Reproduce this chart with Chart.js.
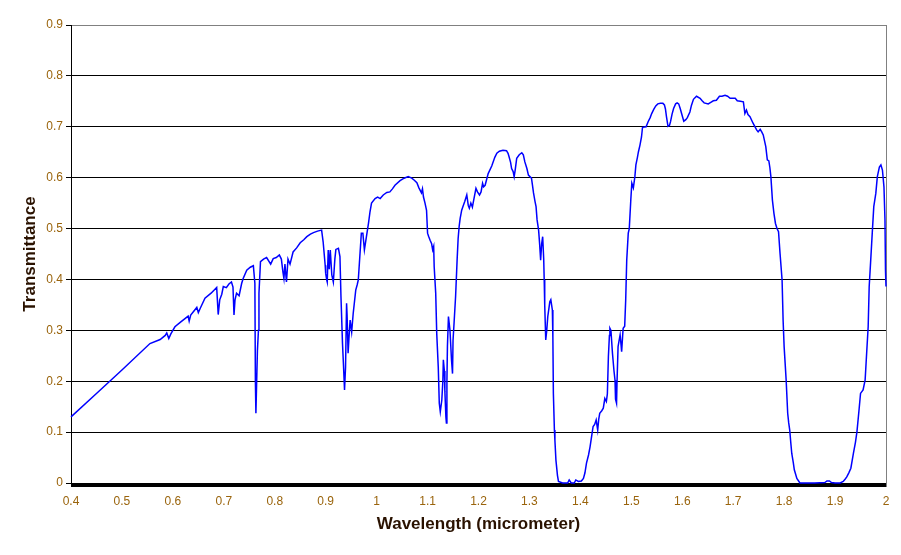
<!DOCTYPE html>
<html>
<head>
<meta charset="utf-8">
<script src="https://cdn.jsdelivr.net/npm/chart.js@4/dist/chart.umd.min.js"></script>
<style>
  html, body { margin: 0; padding: 0; background: #ffffff; }
  #c { display: block; }
</style>
</head>
<body>
<canvas id="c" width="901" height="555"></canvas>
<script>
// ---- Data ----
const wavelength = [
  0.400,0.450,0.500,0.555,0.575,0.585,0.588,0.592,0.596,0.604,0.615,0.630,0.632,0.635,0.647,0.650,0.654,0.663,0.675,0.686,
  0.689,0.692,0.696,0.699,0.705,0.710,0.715,0.718,0.720,0.722,0.725,0.730,0.735,0.738,0.745,0.752,0.758,0.761,0.762,0.763,
  0.765,0.766,0.768,0.769,0.772,0.778,0.784,0.792,0.797,0.803,0.809,0.813,0.816,0.818,0.820,0.823,0.826,0.830,0.836,0.843,
  0.850,0.857,0.863,0.870,0.876,0.884,0.892,0.895,0.899,0.900,0.902,0.903,0.905,0.907,0.909,0.912,0.915,0.918,0.920,0.925,
  0.928,0.930,0.933,0.935,0.937,0.939,0.941,0.942,0.944,0.946,0.948,0.951,0.954,0.959,0.962,0.964,0.967,0.970,0.973,0.976,
  0.980,0.984,0.987,0.990,0.997,1.002,1.007,1.013,1.020,1.026,1.031,1.036,1.046,1.054,1.062,1.069,1.074,1.079,1.083,1.085,
  1.088,1.090,1.092,1.095,1.098,1.100,1.102,1.105,1.108,1.110,1.112,1.113,1.116,1.118,1.121,1.123,1.125,1.128,1.130,1.131,
  1.133,1.134,1.136,1.137,1.138,1.139,1.141,1.144,1.147,1.149,1.150,1.152,1.155,1.158,1.160,1.162,1.164,1.167,1.170,1.173,
  1.177,1.180,1.182,1.185,1.188,1.190,1.195,1.198,1.202,1.205,1.208,1.210,1.213,1.219,1.226,1.232,1.236,1.241,1.248,1.255,
  1.258,1.260,1.263,1.265,1.268,1.270,1.272,1.275,1.280,1.285,1.288,1.291,1.295,1.298,1.304,1.306,1.308,1.311,1.313,1.315,
  1.318,1.320,1.322,1.324,1.326,1.328,1.329,1.330,1.332,1.334,1.336,1.340,1.342,1.345,1.346,1.347,1.349,1.350,1.352,1.355,
  1.357,1.365,1.375,1.378,1.382,1.388,1.391,1.396,1.402,1.406,1.409,1.412,1.416,1.419,1.422,1.425,1.428,1.431,1.434,1.436,
  1.438,1.442,1.445,1.448,1.451,1.453,1.455,1.457,1.458,1.460,1.461,1.463,1.466,1.468,1.469,1.471,1.472,1.474,1.476,1.478,
  1.480,1.481,1.483,1.484,1.487,1.489,1.491,1.494,1.496,1.499,1.501,1.504,1.507,1.509,1.512,1.514,1.517,1.520,1.522,1.529,
  1.533,1.537,1.540,1.544,1.548,1.552,1.557,1.562,1.565,1.567,1.569,1.572,1.575,1.577,1.580,1.583,1.587,1.590,1.593,1.596,
  1.599,1.603,1.607,1.610,1.615,1.618,1.622,1.628,1.635,1.639,1.643,1.651,1.656,1.661,1.667,1.673,1.678,1.684,1.689,1.694,
  1.699,1.704,1.708,1.714,1.720,1.723,1.726,1.729,1.733,1.739,1.746,1.749,1.753,1.756,1.759,1.764,1.767,1.770,1.772,1.774,
  1.777,1.780,1.783,1.786,1.789,1.792,1.796,1.798,1.800,1.802,1.804,1.807,1.809,1.811,1.813,1.815,1.818,1.820,1.825,1.831,
  1.860,1.880,1.884,1.889,1.893,1.900,1.910,1.916,1.920,1.923,1.927,1.931,1.936,1.940,1.943,1.947,1.950,1.955,1.959,1.962,
  1.965,1.967,1.970,1.973,1.976,1.980,1.983,1.987,1.990,1.993,1.996,1.998,1.999,2.000
];
const transmittance = [
  0.130,0.176,0.222,0.274,0.282,0.290,0.295,0.284,0.293,0.307,0.316,0.328,0.318,0.330,0.345,0.335,0.344,0.363,0.373,0.384,
  0.331,0.360,0.371,0.386,0.384,0.391,0.395,0.385,0.330,0.360,0.373,0.368,0.392,0.402,0.418,0.424,0.427,0.392,0.200,0.137,
  0.220,0.261,0.300,0.373,0.435,0.440,0.443,0.430,0.441,0.443,0.448,0.440,0.415,0.402,0.430,0.395,0.440,0.430,0.454,0.462,
  0.472,0.478,0.484,0.489,0.492,0.495,0.497,0.474,0.428,0.412,0.399,0.395,0.458,0.420,0.458,0.409,0.395,0.440,0.459,0.461,
  0.445,0.366,0.274,0.230,0.183,0.228,0.353,0.330,0.255,0.290,0.320,0.297,0.333,0.379,0.390,0.399,0.445,0.491,0.491,0.458,
  0.484,0.510,0.533,0.550,0.559,0.562,0.559,0.566,0.571,0.572,0.578,0.585,0.594,0.599,0.602,0.599,0.595,0.590,0.580,0.576,
  0.570,0.578,0.562,0.550,0.536,0.491,0.485,0.477,0.470,0.458,0.465,0.425,0.373,0.294,0.228,0.157,0.140,0.163,0.200,0.242,
  0.220,0.180,0.130,0.118,0.200,0.268,0.327,0.300,0.242,0.215,0.280,0.314,0.366,0.438,0.480,0.504,0.520,0.536,0.545,0.553,
  0.566,0.545,0.540,0.550,0.542,0.553,0.579,0.572,0.566,0.572,0.589,0.582,0.585,0.608,0.623,0.640,0.648,0.652,0.654,0.653,
  0.648,0.641,0.630,0.618,0.612,0.602,0.615,0.638,0.645,0.649,0.645,0.631,0.618,0.605,0.599,0.585,0.570,0.553,0.543,0.517,
  0.497,0.470,0.438,0.470,0.484,0.440,0.399,0.350,0.281,0.300,0.327,0.356,0.360,0.340,0.287,0.176,0.104,0.084,0.045,0.015,
  0.003,0.000,0.000,0.006,0.000,0.000,0.006,0.003,0.004,0.009,0.020,0.039,0.055,0.071,0.091,0.111,0.115,0.124,0.104,0.125,
  0.137,0.142,0.147,0.166,0.160,0.175,0.248,0.290,0.304,0.300,0.285,0.255,0.220,0.202,0.165,0.157,0.200,0.268,0.280,0.291,
  0.270,0.258,0.290,0.304,0.308,0.360,0.438,0.491,0.500,0.556,0.589,0.580,0.602,0.625,0.640,0.651,0.664,0.680,0.699,0.700,
  0.710,0.718,0.726,0.734,0.741,0.745,0.746,0.746,0.743,0.735,0.720,0.701,0.703,0.710,0.725,0.736,0.745,0.747,0.745,0.736,
  0.725,0.711,0.714,0.718,0.729,0.742,0.754,0.760,0.756,0.751,0.747,0.745,0.748,0.751,0.752,0.760,0.760,0.762,0.760,0.756,
  0.756,0.756,0.751,0.750,0.749,0.726,0.733,0.724,0.720,0.707,0.694,0.690,0.695,0.690,0.684,0.661,0.635,0.633,0.620,0.602,
  0.556,0.530,0.510,0.500,0.494,0.451,0.399,0.320,0.268,0.235,0.202,0.137,0.118,0.104,0.080,0.058,0.040,0.026,0.009,0.000,
  0.000,0.001,0.004,0.004,0.001,0.000,0.000,0.003,0.008,0.012,0.020,0.029,0.058,0.080,0.101,0.143,0.176,0.183,0.202,0.255,
  0.307,0.386,0.438,0.491,0.543,0.569,0.602,0.621,0.625,0.615,0.582,0.517,0.418,0.386
];
const xMin = 0.4, xMax = 2.0, xStep = 0.1;
const yMin = 0, yMax = 0.9, yStep = 0.1;
const xTitle = 'Wavelength (micrometer)';
const yTitle = 'Transmittance';

const points = wavelength.map((w, i) => ({ x: w, y: transmittance[i] }));

const tickColor = '#9a640c';
const titleColor = '#2a1200';

const framePlugin = {
  id: 'frame',
  beforeDatasetsDraw(chart) {
    const { ctx, chartArea: a } = chart;
    ctx.save();
    // thick black band along the x axis
    ctx.fillStyle = '#000000';
    ctx.fillRect(a.left, a.bottom, a.right - a.left, 4);
    // gray right border
    ctx.strokeStyle = '#808080';
    ctx.lineWidth = 1;
    ctx.beginPath();
    ctx.moveTo(Math.round(a.right) + 0.5, a.top);
    ctx.lineTo(Math.round(a.right) + 0.5, a.bottom + 4);
    ctx.stroke();
    ctx.restore();
  }
};

new Chart(document.getElementById('c'), {
  type: 'line',
  data: {
    datasets: [{
      data: points,
      borderColor: '#0000FF',
      borderWidth: 1.5,
      pointRadius: 0,
      tension: 0,
      fill: false,
      clip: 4
    }]
  },
  options: {
    responsive: false,
    animation: false,
    events: [],
    layout: { padding: { left: 0, right: 15, top: 25, bottom: 0 } },
    plugins: { legend: { display: false }, tooltip: { enabled: false } },
    scales: {
      x: {
        type: 'linear',
        min: xMin, max: xMax,
        afterFit(s) { s.height = 72; },
        grid: { display: false, drawTicks: false, tickLength: 0 },
        border: { display: false },
        ticks: {
          stepSize: xStep,
          color: tickColor,
          padding: 11,
          maxRotation: 0,
          autoSkip: false,
          font: { family: 'Liberation Sans, Arial, sans-serif', size: 12 },
          callback: v => String(+(+v).toFixed(1))
        },
        title: {
          display: true,
          text: xTitle,
          color: titleColor,
          font: { family: 'Liberation Sans, Arial, sans-serif', size: 17, weight: 'bold' },
          padding: { top: 0, bottom: 20 }
        }
      },
      y: {
        type: 'linear',
        min: yMin, max: yMax,
        afterFit(s) { s.width = 71; },
        grid: {
          color: ctx => (ctx.tick && Math.abs(ctx.tick.value - yMax) < 1e-6) ? '#808080' : '#000000',
          tickColor: '#000000',
          lineWidth: 1,
          drawTicks: true,
          tickLength: 5
        },
        border: { display: true, color: '#000000', width: 1 },
        ticks: {
          stepSize: yStep,
          color: tickColor,
          padding: 3,
          font: { family: 'Liberation Sans, Arial, sans-serif', size: 12 },
          callback: v => String(+(+v).toFixed(1))
        },
        title: {
          display: true,
          text: yTitle,
          color: titleColor,
          font: { family: 'Liberation Sans, Arial, sans-serif', size: 17, weight: 'bold' },
          padding: { top: 20, bottom: 0 }
        }
      }
    }
  },
  plugins: [framePlugin]
});
</script>
</body>
</html>
